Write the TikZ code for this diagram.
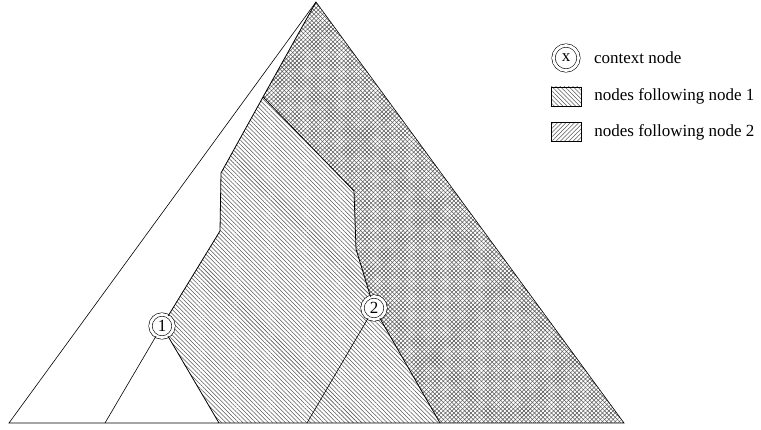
\documentclass[tikz,border=0pt]{standalone}
\usepackage{fontspec}
\setmainfont{Liberation Serif}
\usetikzlibrary{positioning,patterns.meta}

\begin{document}
\begin{tikzpicture}[x=1pt, y=-1pt, node distance=16pt and 13pt,
    ctxnode/.style={draw, semithick, circle, double, double distance=2.8pt, fill=white,
                    inner sep=0pt, minimum size=23pt, font=\fontsize{17}{17}\selectfont},
    swatch/.style={draw, minimum width=30pt, minimum height=19pt, inner sep=0pt},
    hatchone/.style={pattern={Lines[angle=-45, distance=3pt, line width=0.55pt]},
                     pattern color=black!65},
    hatchtwo/.style={pattern={Lines[angle=45, distance=3pt, line width=0.55pt]},
                     pattern color=black!65},
    lbl/.style={font=\fontsize{17}{20}\selectfont, inner sep=0pt},
    bound/.style={thick}]
  \useasboundingbox (0,0) rectangle (761,430);
  \coordinate (apex) at (316,2);
  \coordinate (bl) at (9,423);
  \coordinate (br) at (624,423);
  \coordinate (p) at (263,97);
  \coordinate (q1) at (221,173);
  \coordinate (q2) at (220,231);
  \coordinate (s1) at (354,191);
  \coordinate (s2) at (356,249);
  \coordinate (n1) at (162,326);
  \coordinate (n2) at (374,308);
  \coordinate (l1) at (105,423);
  \coordinate (r1) at (219,423);
  \coordinate (l2) at (307,423);
  \coordinate (r2) at (440,423);
  \fill[hatchone] (apex) -- (p) -- (q1) -- (q2) -- (n1) -- (r1) -- (br) -- cycle;
  \fill[hatchtwo] (apex) -- (p) -- (s1) -- (s2) -- (n2) -- (r2) -- (br) -- cycle;
  \draw[semithick] (apex) -- (bl) -- (br) -- cycle;
  \node (c1) [ctxnode] at (n1) {1};
  \node (c2) [ctxnode] at (n2) {2};
  \draw[bound] (apex) -- (p) -- (q1) -- (q2) -- (c1);
  \draw[bound] (p) -- (s1) -- (s2) -- (c2);
  \draw[semithick] (c1) -- (l1);
  \draw[bound] (c1) -- (r1);
  \draw[semithick] (c2) -- (l2);
  \draw[bound] (c2) -- (r2);
  \node (key0) [ctxnode, minimum size=25pt] at (566,58) {x};
  \node (key1) [swatch, hatchone, below=of key0] {};
  \node (key2) [swatch, hatchtwo, below=of key1] {};
  \node (t0) [lbl, right=15pt of key0] {context node};
  \node (t1) [lbl, right=of key1] {nodes following node 1};
  \node (t2) [lbl, right=of key2] {nodes following node 2};
\end{tikzpicture}
\end{document}
